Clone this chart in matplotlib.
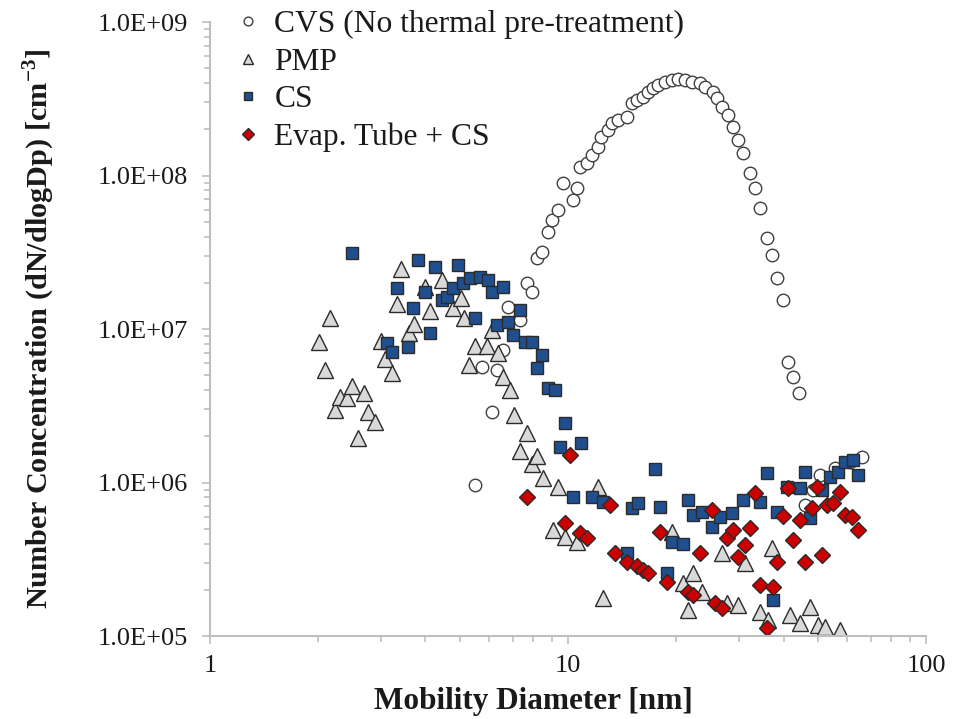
import numpy as np
import matplotlib
matplotlib.use('Agg')
import matplotlib.pyplot as plt
from matplotlib.ticker import FuncFormatter, LogLocator, FixedLocator

plt.rcParams['font.family'] = ['Liberation Serif', 'DejaVu Serif']
plt.rcParams['mathtext.fontset'] = 'custom'
plt.rcParams['mathtext.rm'] = 'Liberation Serif'
plt.rcParams['mathtext.bf'] = 'Liberation Serif:bold'

# CVS, no thermal pre-treatment
cvs_d = [5.50, 6.13, 5.75, 6.33, 6.58, 6.80, 7.34, 7.68, 7.93, 8.19, 8.46, 8.79,
         9.03, 9.38, 9.68, 10.3, 10.6, 10.8, 11.3, 11.7, 12.1, 12.4, 12.9, 13.3,
         13.8, 14.6, 15.1, 15.6, 16.2, 16.7, 17.3, 17.8, 18.7, 19.5, 20.3, 21.2,
         22.2, 23.4, 24.1, 25.4, 26.1, 26.9, 28.0, 28.9, 29.8, 30.8, 32.2, 33.3,
         34.4, 36.0, 37.2, 38.4, 39.9, 41.2, 42.5, 44.2, 45.9, 48.3, 50.6, 55.7,
         61.3, 66.2]
cvs_n = [9.6e5, 2.88e6, 5.65e6, 5.41e6, 7.3e6, 1.39e7, 1.15e7, 2.0e7, 1.74e7, 2.9e7,
         3.18e7, 4.28e7, 5.13e7, 5.96e7, 8.93e7, 6.92e7, 8.3e7, 1.14e8, 1.21e8,
         1.36e8, 1.53e8, 1.78e8, 1.98e8, 2.20e8, 2.30e8, 2.41e8, 2.97e8, 3.10e8,
         3.25e8, 3.50e8, 3.72e8, 3.89e8, 4.07e8, 4.19e8, 4.25e8, 4.19e8, 4.07e8,
         4.0e8, 3.78e8, 3.50e8, 3.20e8, 2.80e8, 2.48e8, 2.07e8, 1.70e8, 1.40e8,
         1.04e8, 8.3e7, 6.14e7, 3.92e7, 3.04e7, 2.15e7, 1.55e7, 6.1e6, 4.87e6,
         3.83e6, 7.1e5, 8.9e5, 1.12e6, 1.24e6, 1.36e6, 1.47e6]

# PMP
pmp_d = [2.02, 2.09, 2.16, 2.23, 2.31, 2.41, 2.49, 2.59, 2.69, 2.76, 2.89, 3.01,
         3.08, 3.22, 3.33, 3.42, 3.60, 3.72, 3.99, 4.12, 4.45, 4.77, 5.03, 5.12,
         5.29, 5.50, 5.94, 6.13, 6.37, 6.58, 6.89, 7.06, 7.34, 7.68, 7.93, 8.19,
         8.51, 9.38, 9.08, 9.81, 10.6, 12.1, 12.5, 19.5, 20.9, 21.6, 22.4, 23.7,
         26.9, 27.8, 29.9, 31.2, 34.4, 36.2, 37.2, 41.7, 44.5, 47.4, 49.9, 52.2,
         57.5]
pmp_n = [8.2e6, 5.4e6, 1.18e7, 2.97e6, 3.6e6, 3.55e6, 4.25e6, 1.95e6, 3.83e6,
         2.88e6, 2.48e6, 8.35e6, 6.38e6, 5.17e6, 1.46e7, 2.46e7, 9.4e6, 1.08e7,
         1.88e7, 1.31e7, 2.08e7, 1.37e7, 1.59e7, 1.18e7, 5.8e6, 7.75e6, 7.75e6,
         9.85e6, 6.98e6, 4.87e6, 4.01e6, 2.75e6, 1.60e6, 2.10e6, 1.32e6, 1.49e6,
         1.07e6, 9.35e5, 4.91e5, 4.42e5, 4.09e5, 9.35e5, 1.77e5, 4.76e5, 2.21e5,
         1.48e5, 2.57e5, 1.94e5, 3.47e5, 1.64e5, 1.59e5, 2.99e5, 1.43e5, 1.27e5,
         3.74e5, 1.37e5, 1.22e5, 1.55e5, 1.18e5, 1.15e5, 1.09e5]

# CS
cs_d = [2.49, 3.12, 3.22, 3.33, 3.57, 3.69, 3.81, 3.99, 4.12, 4.25, 4.45, 4.59,
        4.77, 4.93, 5.09, 5.32, 5.50, 5.68, 5.98, 6.13, 6.34, 6.58, 6.80, 7.02,
        7.34, 7.59, 7.93, 8.19, 8.46, 8.79, 9.20, 9.50, 9.81, 10.3, 10.9, 11.7,
        12.5, 14.6, 15.1, 15.7, 17.5, 18.1, 18.9, 19.5, 20.9, 21.6, 22.4, 23.7,
        25.2, 26.6, 28.7, 30.8, 34.4, 36.0, 37.4, 38.4, 40.9, 44.5, 45.9, 47.4,
        51.2, 53.9, 56.8, 59.4, 62.5, 64.6]
cs_n = [3.13e7, 8.1e6, 7.08e6, 1.85e7, 7.64e6, 1.37e7, 2.82e7, 1.74e7, 9.4e6,
        2.54e7, 1.55e7, 1.61e7, 1.85e7, 2.61e7, 2.0e7, 2.15e7, 1.18e7, 2.18e7,
        2.08e7, 1.74e7, 1.06e7, 1.88e7, 1.11e7, 9.15e6, 1.33e7, 8.2e6, 8.2e6,
        5.57e6, 6.77e6, 4.13e6, 4.01e6, 1.70e6, 2.44e6, 8.05e5, 1.81e6, 8.05e5,
        7.46e5, 3.47e5, 6.82e5, 7.35e5, 1.22e6, 6.92e5, 2.57e5, 4.09e5, 4.0e5,
        7.69e5, 6.14e5, 6.43e5, 5.13e5, 5.96e5, 6.33e5, 7.69e5, 7.46e5, 1.15e6,
        1.72e5, 6.43e5, 9.35e5, 9.2e5, 1.17e6, 5.88e5, 8.93e5, 1.09e6, 1.17e6,
        1.36e6, 1.40e6, 1.12e6]

# Evaporation tube + CS
et_d = [7.68, 9.81, 10.1, 10.8, 11.3, 13.1, 13.5, 14.6, 15.6, 16.2, 16.7, 18.1,
        18.9, 21.6, 22.4, 23.4, 25.2, 25.7, 26.9, 27.8, 28.9, 29.9, 31.2, 32.2,
        33.3, 34.4, 36.0, 37.4, 38.4, 39.9, 41.2, 42.5, 44.5, 45.9, 48.1, 49.6,
        51.2, 52.9, 55.0, 57.5, 59.4, 62.1, 64.6]
et_n = [8.05e5, 5.45e5, 1.51e6, 4.69e5, 4.35e5, 7.13e5, 3.47e5, 3.03e5, 2.86e5,
        2.69e5, 2.57e5, 4.76e5, 2.25e5, 1.94e5, 1.86e5, 3.47e5, 6.62e5, 1.64e5,
        1.52e5, 4.35e5, 4.91e5, 3.27e5, 3.92e5, 5.06e5, 8.55e5, 2.15e5, 1.13e5,
        2.10e5, 3.03e5, 6.05e5, 9.2e5, 4.22e5, 5.70e5, 3.03e5, 6.82e5, 9.4e5,
        3.37e5, 7.13e5, 7.35e5, 8.67e5, 6.14e5, 5.96e5, 4.91e5]

fig = plt.figure(figsize=(9.63, 7.19), dpi=100)
ax = fig.add_axes([0.218, 0.1154, 0.7436, 0.854])

edge = '#2b2b2b'
ax.plot(cvs_d, cvs_n, 'o', ms=9, mfc='white', mec='#404040', mew=1.0,
        label='CVS (No thermal pre-treatment)')
ax.plot(pmp_d, pmp_n, '^', ms=11, mfc='#d9d9d9', mec=edge, mew=1.0, label='PMP')
ax.plot(cs_d, cs_n, 's', ms=9, mfc='#1f4f8f', mec=edge, mew=1.0, label='CS')
ax.plot(et_d, et_n, 'D', ms=8.5, mfc='#cc0000', mec=edge, mew=1.0,
        label='Evap. Tube + CS')

ax.set_xscale('log')
ax.set_yscale('log')
ax.set_xlim(1, 100)
ax.set_ylim(1e5, 1e9)

for s in ['top', 'right']:
    ax.spines[s].set_visible(False)
for s in ['left', 'bottom']:
    ax.spines[s].set_color('#bfbfbf')
    ax.spines[s].set_linewidth(1.5)

ax.xaxis.set_major_locator(FixedLocator([1, 10, 100]))
ax.xaxis.set_major_formatter(FuncFormatter(lambda v, p: '%g' % v))
ax.yaxis.set_major_locator(FixedLocator([1e5, 1e6, 1e7, 1e8, 1e9]))
ax.yaxis.set_major_formatter(FuncFormatter(
    lambda v, p: '1.0E+%02d' % int(round(np.log10(v)))))
ax.xaxis.set_minor_locator(LogLocator(base=10, subs=np.arange(2, 10)))
ax.yaxis.set_minor_locator(LogLocator(base=10, subs=np.arange(2, 10)))
ax.xaxis.set_minor_formatter(FuncFormatter(lambda v, p: ''))
ax.yaxis.set_minor_formatter(FuncFormatter(lambda v, p: ''))
ax.tick_params(which='both', color='#bfbfbf', width=1.2, labelsize=19,
               labelcolor='#1a1a1a')
ax.tick_params(which='major', length=6)
ax.tick_params(which='minor', length=4)
ax.tick_params(axis='x', pad=8)
ax.tick_params(axis='y', pad=10)

ax.set_xlabel('Mobility Diameter [nm]', fontsize=22.5, fontweight='bold',
              color='#1a1a1a')
ax.xaxis.set_label_coords(0.452, -0.083)
ax.set_ylabel(r'Number Concentration (dN/dlogDp) [cm$^{\mathbf{-3}}$]',
              fontsize=21.8, fontweight='bold', color='#1a1a1a', labelpad=29)

leg = ax.legend(loc='upper left', bbox_to_anchor=(0.024, 1.04), frameon=False,
                fontsize=22.7, markerscale=0.7, handlelength=0.55,
                handletextpad=0.55, labelspacing=0.27, borderaxespad=0)
for t in leg.get_texts():
    t.set_color('#1a1a1a')

fig.savefig('out.png', dpi=100)
